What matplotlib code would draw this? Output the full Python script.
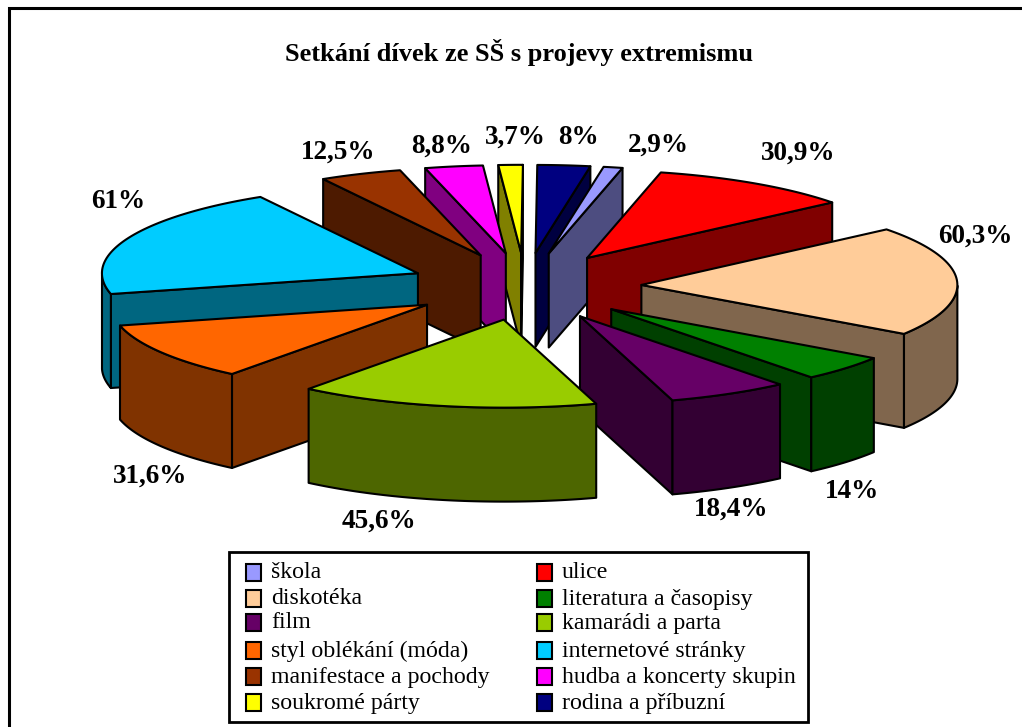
import numpy as np
import matplotlib
matplotlib.use("Agg")
import matplotlib.pyplot as plt
from matplotlib.patches import Polygon, Rectangle

categories = ["škola", "ulice", "diskotéka", "literatura a časopisy", "film", "kamarádi a parta",
              "styl oblékání (móda)", "internetové stránky", "manifestace a pochody",
              "hudba a koncerty skupin", "soukromé párty", "rodina a příbuzní"]
values = [2.9, 30.9, 60.3, 14, 18.4, 45.6, 31.6, 61, 12.5, 8.8, 3.7, 8]
top_colors = ["#9999FF", "#FF0000", "#FFCC99", "#008000", "#660066", "#99CC00",
              "#FF6600", "#00CCFF", "#993300", "#FF00FF", "#FFFF00", "#000080"]
# label anchors in pixels, same order as values
label_pos = [(658, 145), (798, 153), (975, 236), (852, 492), (731, 509), (379, 521),
             (150, 476), (118, 201), (338, 152), (442, 146), (515, 137), (578, 138)]

W, H = 1022, 727
cx, cy = 525, 286.5   # pie centre
rx, ry = 316, 88      # ellipse of the top face
ex, ey = 116.5, 33.7  # explosion
depth = 94
first_angle = 10

plt.rcParams['font.family'] = ['Liberation Serif', 'DejaVu Serif']
fig = plt.figure(figsize=(W / 100, H / 100), dpi=100)
ax = fig.add_axes([0, 0, 1, 1])
ax.set_xlim(0, W)
ax.set_ylim(H, 0)
ax.axis("off")

ax.add_patch(Rectangle((9, 8), W + 20, H + 20, fc="white", ec="black", lw=2.2, zorder=0))


def darker(col):
    r, g, b = matplotlib.colors.to_rgb(col)
    return (r * 0.5, g * 0.5, b * 0.5)


def shape(pts, col, z):
    ax.add_patch(Polygon(pts, closed=True, fc=col, ec="black", lw=1.5, joinstyle="round", zorder=z))


edges = first_angle + np.concatenate([[0], np.cumsum(values)]) / np.sum(values) * 360
mids = np.radians((edges[:-1] + edges[1:]) / 2)
# back slices first, front slices paint over them
order = np.argsort(-np.cos(mids))

for n, i in enumerate(order):
    z = n * 3 + 1
    col = top_colors[i]
    wall = darker(col)
    ax0 = cx + ex * np.sin(mids[i])
    ay0 = cy - ey * np.cos(mids[i])
    th = np.radians(np.linspace(edges[i], edges[i + 1], 60))
    ax1 = ax0 + rx * np.sin(th)
    ay1 = ay0 - ry * np.cos(th)
    arc = np.column_stack([ax1, ay1])
    apex = np.array([[ax0, ay0]])
    down = np.array([0, depth])
    # cut faces, only when they turn towards the viewer
    if np.sin(th[0]) < 0:
        shape(np.vstack([apex, arc[:1], arc[:1] + down, apex + down]), wall, z)
    if np.sin(th[-1]) > 0:
        shape(np.vstack([apex, arc[-1:], arc[-1:] + down, apex + down]), wall, z)
    # outer wall, only the part that faces the viewer
    front = np.cos(th) < 0
    if front.any():
        a = arc[front]
        shape(np.vstack([a, a[::-1] + down]), wall, z + 1)
    shape(np.vstack([apex, arc]), col, z + 2)

ax.text(519, 52, "Setkání dívek ze SŠ s projevy extremismu", ha="center", va="center",
        fontsize=19, fontweight="bold")

for v, (lx, ly) in zip(values, label_pos):
    ax.text(lx, ly, f"{v:g}".replace(".", ",") + "%", ha="center", va="center",
            fontsize=19.5, fontweight="bold", zorder=100)

# legend
ax.add_patch(Rectangle((229, 552), 579, 170, fc="white", ec="black", lw=2, zorder=100))
rows = [573, 599, 623, 651, 677, 703]
cols = [(246, 271), (537, 562)]
for k, name in enumerate(categories):
    sx, tx = cols[k % 2]
    y = rows[k // 2]
    ax.add_patch(Rectangle((sx, y - 9), 15, 17, fc=top_colors[k], ec="black", lw=1.5, zorder=101))
    ax.text(tx, y, name, ha="left", va="center", fontsize=17.2, zorder=101)

fig.savefig("out.png", dpi=100)
